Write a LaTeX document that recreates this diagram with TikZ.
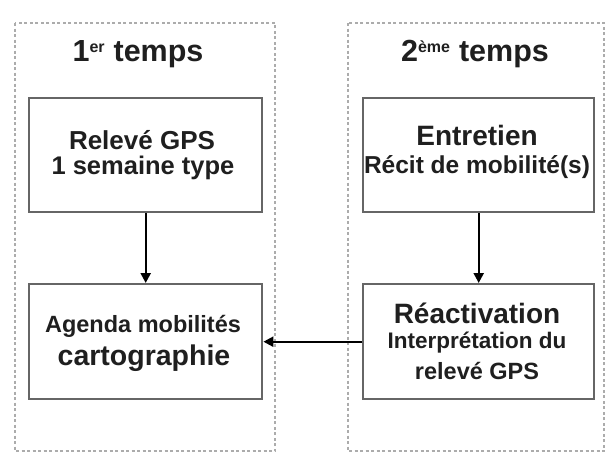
\documentclass[tikz,border=0pt]{standalone}
\usepackage{fontspec}
\setmainfont{Liberation Sans}
\usetikzlibrary{arrows.meta}
\tikzset{
  phase/.style={draw=gray!65, line width=2pt, dash pattern=on 3pt off 2.5pt},
  stepbox/.style={draw=black!60, line width=2.4pt, fill=white},
  conn/.style={draw=black, line width=2.3pt, -{Triangle[length=10pt,width=10pt]}},
  lbl/.style={font=\bfseries, text=black!88, align=center, inner sep=0pt}
}
\begin{document}
\begin{tikzpicture}[x=1pt,y=-1pt]
\useasboundingbox (0,0) rectangle (608,458);
% phase frames
\draw[phase] (15,23) rectangle (275,451);
\draw[phase] (348,23) rectangle (604,451);
% titles
\node[lbl, font=\fontsize{30.5}{33}\selectfont\bfseries] (t1) at (138,54) {1\textsuperscript{\fontsize{16}{16}\selectfont er} temps};
\node[lbl, font=\fontsize{30.5}{33}\selectfont\bfseries] (t2) at (475,54) {2\textsuperscript{\fontsize{16}{16}\selectfont ème} temps};
% boxes
\node[stepbox, minimum width=233pt, minimum height=114pt, anchor=north west] (gps) at (28,97) {};
\node[lbl] (gps1) at (142,140) {\fontsize{26}{28}\selectfont Relevé GPS};
\node[lbl] (gps2) at (143,168) {\fontsize{25.5}{28}\selectfont 1 semaine type};
\node[stepbox, minimum width=231pt, minimum height=114pt, anchor=north west] (ent) at (362,97) {};
\node[lbl] (ent1) at (477,135) {\fontsize{28}{30}\selectfont Entretien};
\node[lbl] (ent2) at (477,167) {\fontsize{24.5}{26}\selectfont Récit de mobilité(s)};
\node[stepbox, minimum width=233pt, minimum height=115pt, anchor=north west] (age) at (28,283) {};
\node[lbl] (age1) at (143,326) {\fontsize{23.5}{26}\selectfont Agenda mobilités};
\node[lbl] (age2) at (144,358) {\fontsize{28.5}{30}\selectfont cartographie};
\node[stepbox, minimum width=231pt, minimum height=115pt, anchor=north west] (rea) at (362,283) {};
\node[lbl] (rea1) at (477,313) {\fontsize{28}{30}\selectfont Réactivation};
\node[lbl] (rea2) at (477,343) {\fontsize{22.5}{25}\selectfont Interprétation du};
\node[lbl] (rea3) at (477,371) {\fontsize{23.5}{25}\selectfont relevé GPS};
% connectors
\draw[conn] (gps.south) -- (age.north);
\draw[conn] (ent.south) -- (rea.north);
\draw[conn] (rea.west) -- (age.east);
\end{tikzpicture}
\end{document}
